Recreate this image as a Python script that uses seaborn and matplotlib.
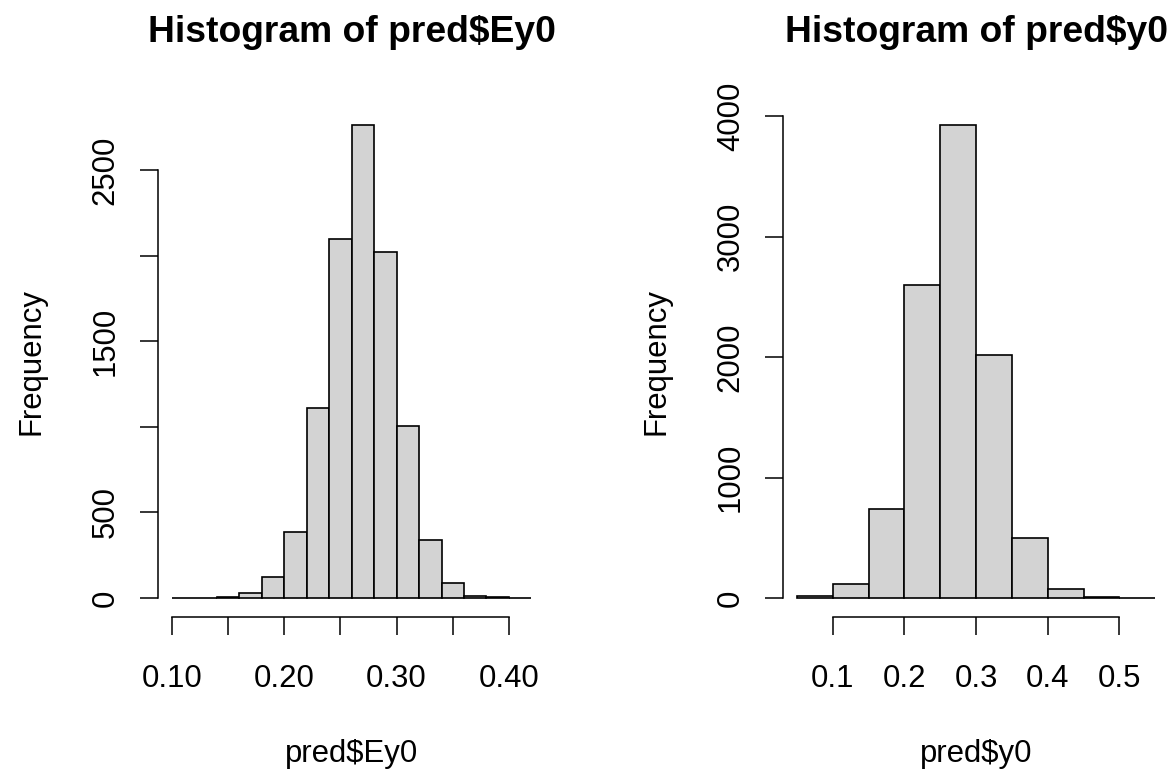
import numpy as np
import pandas as pd
import matplotlib
matplotlib.use("Agg")
import matplotlib.pyplot as plt
import seaborn as sns

# ---- data ----
ey0_edges = [0.10, 0.12, 0.14, 0.16, 0.18, 0.20, 0.22, 0.24, 0.26, 0.28,
             0.30, 0.32, 0.34, 0.36, 0.38, 0.40, 0.42]
ey0_counts = [1, 1, 3, 27, 120, 385, 1112, 2098, 2763, 2024,
              1006, 338, 88, 14, 3, 1]
ey0_xticks = [0.10, 0.15, 0.20, 0.25, 0.30, 0.35, 0.40]
ey0_xticklabels = ["0.10", "", "0.20", "", "0.30", "", "0.40"]
ey0_yticks = [0, 500, 1000, 1500, 2000, 2500]
ey0_yticklabels = ["0", "500", "", "1500", "", "2500"]

y0_edges = [0.05, 0.10, 0.15, 0.20, 0.25, 0.30, 0.35, 0.40, 0.45, 0.50, 0.55]
y0_counts = [15, 119, 739, 2600, 3925, 2020, 501, 78, 6, 1]
y0_xticks = [0.1, 0.2, 0.3, 0.4, 0.5]
y0_xticklabels = ["0.1", "0.2", "0.3", "0.4", "0.5"]
y0_yticks = [0, 1000, 2000, 3000, 4000]
y0_yticklabels = ["0", "1000", "2000", "3000", "4000"]

titles = ["Histogram of pred$Ey0", "Histogram of pred$y0"]
xlabels = ["pred$Ey0", "pred$y0"]
ylabel = "Frequency"

sns.set_style("white")
plt.rcParams["font.family"] = ["Liberation Sans", "DejaVu Sans"]
plt.rcParams["text.color"] = "black"
plt.rcParams["axes.labelcolor"] = "black"
plt.rcParams["xtick.color"] = "black"
plt.rcParams["ytick.color"] = "black"
plt.rcParams["xtick.bottom"] = True
plt.rcParams["ytick.left"] = True

W, H = 1171, 769
fig = plt.figure(figsize=(W / 100, H / 100), dpi=100)
top_px, bot_px = 106.5, 616.9
ax1 = fig.add_axes([157.5 / W, 1 - bot_px / H, 388.3 / W, (bot_px - top_px) / H])
ax2 = fig.add_axes([782.6 / W, 1 - bot_px / H, 387.0 / W, (bot_px - top_px) / H])

FS = 22.4
TFS = 26.8
LW = 1.1

panels = [
    (ax1, ey0_edges, ey0_counts, ey0_xticks, ey0_xticklabels, ey0_yticks, ey0_yticklabels, -0.3031),
    (ax2, y0_edges, y0_counts, y0_xticks, y0_xticklabels, y0_yticks, y0_yticklabels, -0.3047),
]

for i, (ax, edges, counts, xt, xtl, yt, ytl, ylx) in enumerate(panels):
    e = np.asarray(edges, dtype=float)
    df = pd.DataFrame({"value": (e[:-1] + e[1:]) / 2, "count": counts})
    sns.histplot(data=df, x="value", weights="count", bins=list(edges), ax=ax,
                 color="#D3D3D3", edgecolor="black", linewidth=1.2, alpha=1)
    xr = e[-1] - e[0]
    ax.set_xlim(e[0] - 0.04 * xr, e[-1] + 0.04 * xr)
    m = max(counts)
    ax.set_ylim(-0.04 * m, 1.04 * m)

    for s in ["top", "right"]:
        ax.spines[s].set_visible(False)
    for s in ["left", "bottom"]:
        ax.spines[s].set_visible(True)
        ax.spines[s].set_color("black")
        ax.spines[s].set_linewidth(LW)
    ax.spines["bottom"].set_bounds(xt[0], xt[-1])
    ax.spines["left"].set_bounds(yt[0], yt[-1])

    ax.set_xticks(xt)
    ax.set_xticklabels(xtl)
    ax.set_yticks(yt)
    ax.set_yticklabels(ytl)
    ax.tick_params(axis="both", which="major", direction="out", length=13, width=LW,
                   color="black", labelsize=FS, labelcolor="black",
                   bottom=True, left=True, top=False, right=False)
    ax.tick_params(axis="x", pad=20.6)
    ax.tick_params(axis="y", pad=13.5)
    for lbl in ax.get_yticklabels():
        lbl.set_rotation(90)
        lbl.set_va("center")
        lbl.set_ha("right")

    ax.set_title(titles[i], fontsize=TFS, fontweight="bold", pad=46.7, color="black")
    ax.set_xlabel(xlabels[i], fontsize=FS, color="black")
    ax.xaxis.set_label_coords(0.5, -0.2843)
    ax.xaxis.label.set_va("baseline")
    ax.set_ylabel(ylabel, fontsize=FS, color="black")
    ax.yaxis.set_label_coords(ylx, 0.5)
    ax.yaxis.label.set_va("baseline")
    ax.grid(False)

fig.savefig("out.png", dpi=100, facecolor="white")
